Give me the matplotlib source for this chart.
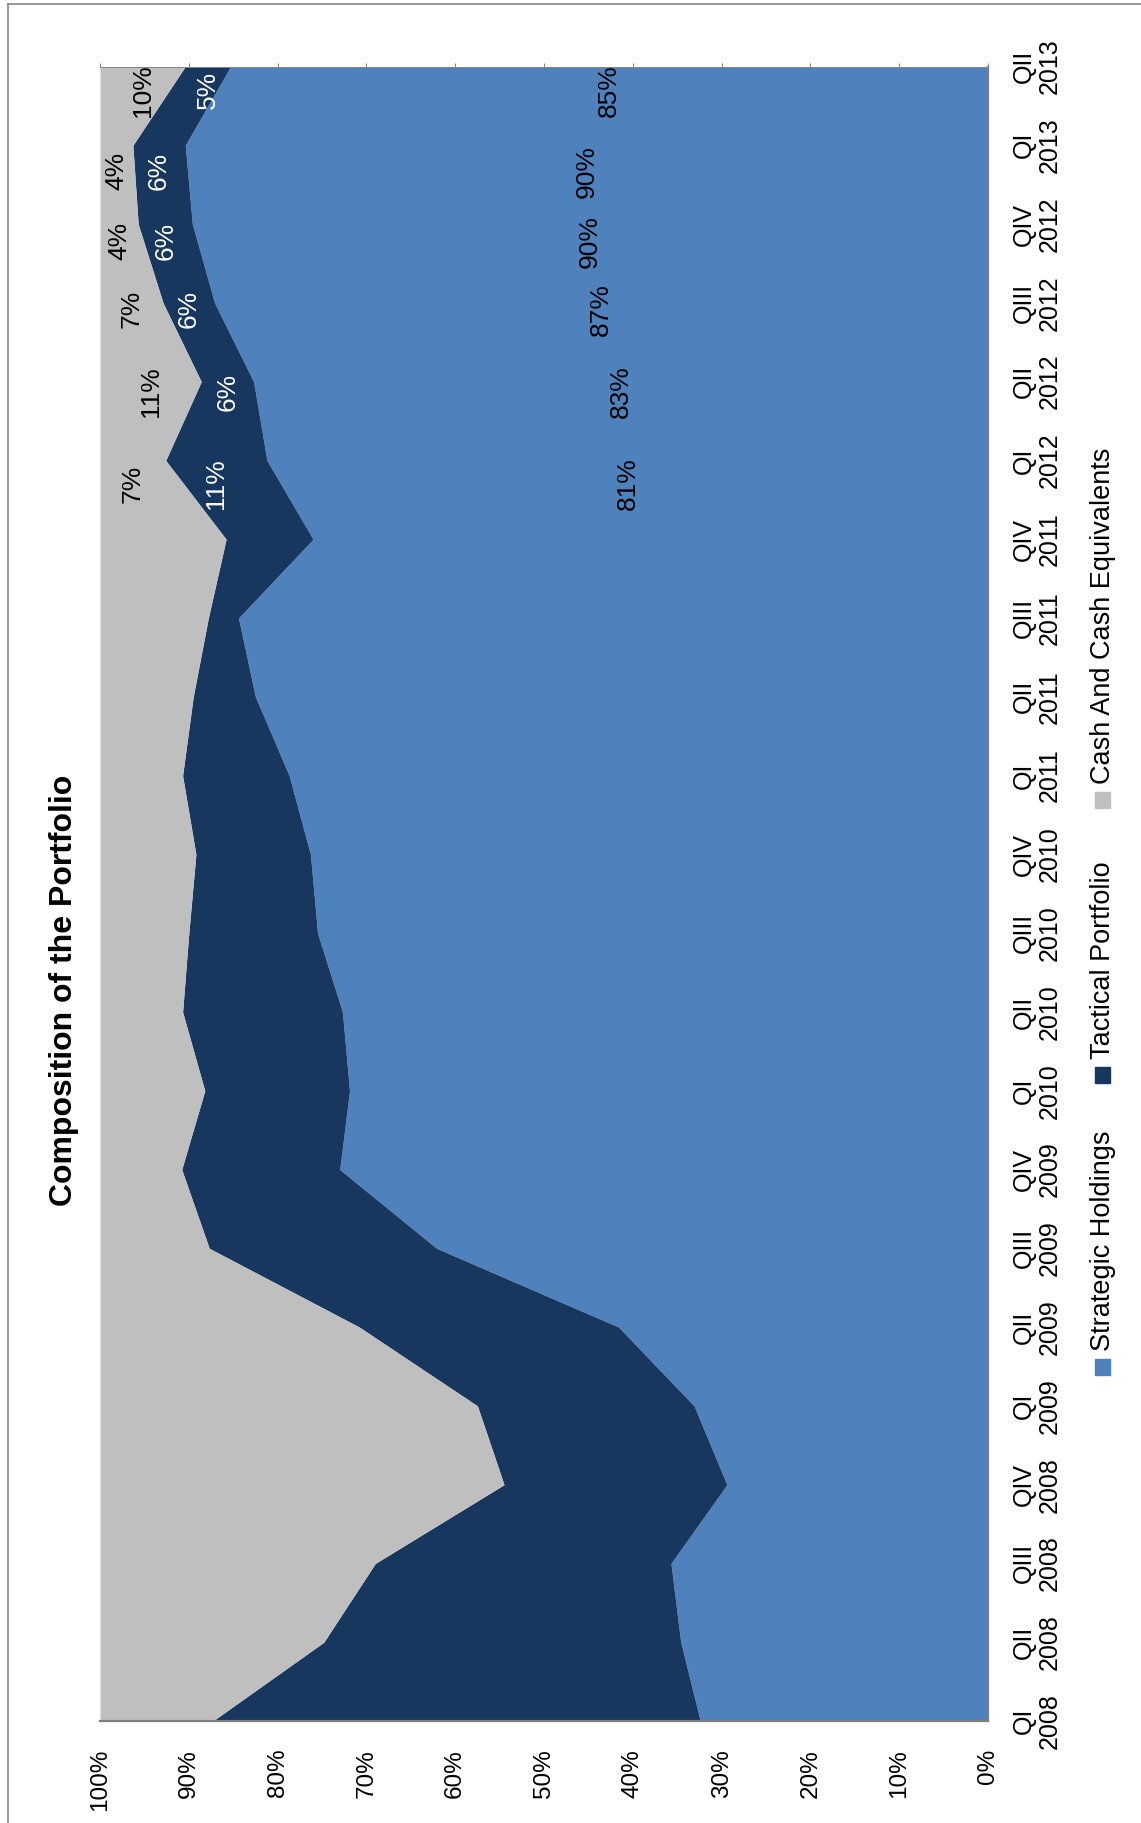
import matplotlib

matplotlib.use("Agg")
import matplotlib.pyplot as plt
import numpy as np
from matplotlib.lines import Line2D
from matplotlib.patches import Rectangle

plt.rcParams["font.family"] = ["Liberation Sans", "DejaVu Sans"]

# quarterly portfolio split, percent of total
quarters = [
    "QI\n2008", "QII\n2008", "QIII\n2008", "QIV\n2008",
    "QI\n2009", "QII\n2009", "QIII\n2009", "QIV\n2009",
    "QI\n2010", "QII\n2010", "QIII\n2010", "QIV\n2010",
    "QI\n2011", "QII\n2011", "QIII\n2011", "QIV\n2011",
    "QI\n2012", "QII\n2012", "QIII\n2012", "QIV\n2012",
    "QI\n2013", "QII\n2013",
]
strategic = [32.4, 34.6, 35.7, 29.4, 33.1, 41.6, 62.1, 73.0, 71.9, 72.7, 75.5,
             76.3, 78.7, 82.5, 84.4, 76.0, 81.2, 82.7, 87.1, 89.6, 90.4, 85.3]
tactical = [54.9, 40.2, 33.3, 25.1, 24.4, 29.2, 25.6, 17.8, 16.3, 18.0, 14.5,
            12.9, 12.0, 7.0, 3.4, 9.8, 11.4, 5.9, 5.8, 6.1, 5.9, 5.1]
cash = [12.7, 25.2, 31.0, 45.5, 42.5, 29.2, 12.3, 9.2, 11.8, 9.3, 10.0,
        10.8, 9.3, 10.5, 12.2, 14.2, 7.4, 11.4, 7.1, 4.3, 3.7, 9.6]
series_names = ["Strategic Holdings", "Tactical Portfolio", "Cash And Cash Equivalents"]
value_ticks = [0, 10, 20, 30, 40, 50, 60, 70, 80, 90, 100]
first_labelled = 16  # data labels from QI 2012 onwards

# small nudges (in quarters) applied to the data labels of each labelled quarter
LABEL_NUDGE = [-0.30, -0.13, -0.08, -0.22, -0.33, -0.30]

COLORS = ["#4F81BD", "#17375E", "#BFBFBF"]
LABEL_COLORS = ["black", "white", "black"]
AXIS_GREY = "#868686"

W, H = 1141, 1823


def fx(px):
    return px / W


def fy(py):
    return 1 - py / H


fig = plt.figure(figsize=(W / 100, H / 100), dpi=100)

# the chart is laid on its side: quarters run up the right edge,
# the percentage scale runs right-to-left along the bottom
ax = fig.add_axes([fx(100), fy(1721), fx(888), (1721 - 66.5) / H])
pos = np.arange(len(quarters))
layers = np.array([strategic, tactical, cash])
tops = np.cumsum(layers, axis=0)
bottoms = tops - layers

for k in range(3):
    ax.fill_betweenx(pos, bottoms[k], tops[k], color=COLORS[k], lw=0)

for j, i in enumerate(range(first_labelled, len(quarters))):
    for k in range(3):
        mid = (bottoms[k, i] + tops[k, i]) / 2
        ax.text(mid, i + LABEL_NUDGE[j], f"{layers[k, i]:.0f}%", rotation=90,
                ha="center", va="center", fontsize=19, color=LABEL_COLORS[k])

ax.set_xlim(100, 0)
ax.set_ylim(0, len(quarters) - 1)

ax.set_xticks(value_ticks)
ax.set_xticklabels([f"{v}%" for v in value_ticks], rotation=90, fontsize=17.5)
ax.tick_params(axis="x", bottom=False, top=True, labelbottom=True,
               labeltop=False, length=3, color=AXIS_GREY, pad=17)

ax.yaxis.tick_right()
ax.set_yticks(pos)
ax.set_yticklabels(quarters, rotation=90, fontsize=18)
ax.tick_params(axis="y", length=0, pad=17)
for lbl in ax.get_yticklabels():
    lbl.set_verticalalignment("center")
    lbl.set_horizontalalignment("left")
    lbl.set_multialignment("center")
    lbl.set_linespacing(1.1)

ax.spines["left"].set_visible(False)
ax.spines["bottom"].set_color("#7F7F7F")
ax.spines["bottom"].set_linewidth(1.6)
ax.spines["right"].set_color("#7F7F7F")
ax.spines["right"].set_linewidth(1.6)
ax.spines["top"].set_color(AXIS_GREY)
ax.spines["top"].set_linewidth(0.7)

fig.text(fx(64), fy(990), "Composition of the Portfolio", rotation=90,
         fontsize=23, fontweight="bold", ha="center", va="center")

# legend, stacked up the right-hand margin
square_bottoms = [1375, 1083, 808]
for name, color, yb in zip(series_names, COLORS, square_bottoms):
    fig.patches.append(Rectangle((fx(1095), fy(yb)), fx(15), 16 / H,
                                 transform=fig.transFigure, color=color))
    fig.text(fx(1103), fy(yb - 24), name, rotation=90, fontsize=19.5,
             ha="center", va="bottom")

# chart frame
fig.add_artist(Line2D([fx(8), fx(8)], [fy(4), 0], color=AXIS_GREY, lw=1.2,
                      transform=fig.transFigure))
fig.add_artist(Line2D([fx(8), 1], [fy(4), fy(4)], color=AXIS_GREY, lw=1.2,
                      transform=fig.transFigure))

fig.savefig("out.png", dpi=100)
